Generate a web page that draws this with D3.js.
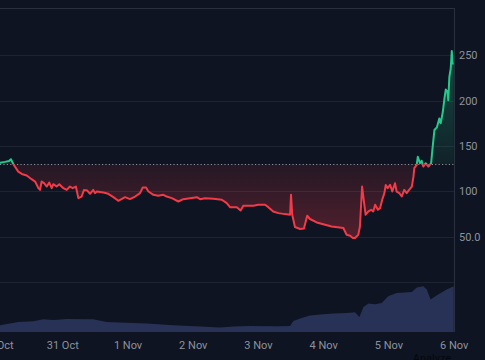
<!DOCTYPE html>
<html>
<head>
<meta charset="utf-8">
<script src="https://cdn.jsdelivr.net/npm/d3@7"></script>
<style>
  html, body { margin: 0; padding: 0; background: #0e1421; overflow: hidden; }
  svg { display: block; }
  text { font-family: Roboto, "Liberation Sans", sans-serif; }
</style>
</head>
<body>
<svg id="chart" width="485" height="360"></svg>
<script>
// ---- data (hours since 30 Oct 00:00 UTC) ----
const priceHours = [0,1.1,2.9,4.4,5.1,6.0,7.8,9.1,10.9,12.7,14.0,15.2,15.8,16.4,17.3,18.3,19.2,20.1,20.7,21.9,22.9,24.4,25.6,26.8,27.8,29.0,29.9,31.1,32.0,33.2,34.2,35.4,36.0,36.7,39.1,40.9,42.8,44.6,47.1,48.9,50.8,52.6,53.6,54.8,55.7,57.5,59.3,61.2,62.4,64.3,66.7,68.5,71.0,73.5,74.7,76.5,79.6,82.7,84.5,85.7,88.2,89.6,90.6,94.3,96.1,98.6,99.8,101.6,103.5,105.9,107.8,108.15,108.6,109.6,111.5,112.9,114.1,115.1,117.6,120.7,123.1,127.4,128.6,129.9,130.9,131.7,132.9,133.5,134.3,135.0,135.6,136.6,137.6,138.4,139.1,140.1,140.9,141.7,142.5,143.0,143.7,144.6,145.4,146.4,147.0,148.0,148.9,149.8,150.7,151.6,152.6,153.2,153.5,154.4,154.8,155.6,156.2,156.8,157.7,158.7,159.7,160.1,160.9,161.8,162.7,163.2,164.0,164.6,165.1,165.7,166.0,166.4,166.9,167.3,167.6,168.0];
const priceValues = [131.5,131.6,132.5,133.5,135.4,130,121.8,119.2,117.4,113.4,110.8,103.5,101.6,110.8,109,105.3,109.7,103.5,107.9,105.3,107.9,103.5,101.6,105.3,103.5,105.3,92.5,94.3,101.6,100.9,97.3,101.6,98,99.8,98.7,97.3,93.6,89.6,93.6,91.4,94.3,98,104.2,104.2,99.8,96.2,95.1,96.2,94.3,92.5,88.8,91.4,92.5,93.6,91.4,92.5,91.8,90.7,87,82.6,82.6,78.9,84.1,84.1,85.2,85.2,82.6,77.8,76,74.9,74.2,96.2,74.2,60.7,58.5,59.1,73.1,69.5,65.7,63.2,61.3,59.6,52.2,51.1,48.6,48.6,52.2,61.3,105.3,88,74.2,78,79.7,77.8,85.2,79.7,81.5,90.7,98,107.1,103.5,107.1,99.8,109,99.8,98,94.3,101.6,98,101.6,105.3,116.3,125.5,129.1,138.2,131,133.8,127.3,131,127.3,131,144,167.6,170.5,180.4,175,187.7,202.4,212.3,209.7,200.5,226.2,235.4,254.8,240.9,241];
const baselineValue = 130;

const volumeHours = [0,1.1,7.8,13.3,17.0,20.7,25.6,35.4,40.3,45.2,55.1,64.8,74.7,82.0,86.9,93.1,102.9,107.8,109.0,111.5,115.1,118.8,123.7,128.6,131.7,133.3,134.8,136.6,139.1,141.5,143.9,147.0,152.6,154.4,156.8,158.1,159.5,161.8,165.4,168.0];
const volumeValues = [12,13.4,20,21.4,25.4,24,26,25.4,20,18.8,16.8,13.4,10.8,8.8,10.8,12,11.4,12,22,26.8,32.8,34.8,36.8,38,39.4,30,50,56.8,55.4,58,71.4,78,80,88.8,91.4,84.8,64.8,73.4,84.8,91.4];

const dayTicks = ["2024-10-30","2024-10-31","2024-11-01","2024-11-02","2024-11-03","2024-11-04","2024-11-05","2024-11-06"];
const priceTickValues = [50,100,150,200,250];
const gridValues = [0,50,100,150,200,250];

// ---- layout ----
const W = 485, H = 360;
const plotRight = 454, plotTop = 8, volBottom = 332;
const t0 = Date.UTC(2024, 9, 30, 0, 0);
const toDate = h => new Date(t0 + h * 3600e3);

const svg = d3.select("#chart");
svg.append("rect").attr("width", W).attr("height", H).attr("fill", "#0e1421");

const x = d3.scaleUtc()
  .domain([new Date(t0), new Date(Date.UTC(2024, 10, 6, 0, 0))])
  .range([-2.94, 453.7]);
const y = d3.scaleLinear().domain([50, 150]).range([236.7, 146]);
const yVol = d3.scaleLinear().domain([0, 100]).range([volBottom, 282]);

const defs = svg.append("defs");
defs.append("clipPath").attr("id", "plotClip").append("rect")
  .attr("x", 0).attr("y", plotTop).attr("width", plotRight).attr("height", volBottom - plotTop);
const yb = y(baselineValue);
defs.append("clipPath").attr("id", "aboveClip").append("rect")
  .attr("x", 0).attr("y", 0).attr("width", plotRight).attr("height", yb);
defs.append("clipPath").attr("id", "belowClip").append("rect")
  .attr("x", 0).attr("y", yb).attr("width", plotRight).attr("height", H - yb);

const gUp = defs.append("linearGradient").attr("id", "gUp")
  .attr("gradientUnits", "userSpaceOnUse").attr("x1", 0).attr("x2", 0).attr("y1", y(255)).attr("y2", yb);
gUp.append("stop").attr("offset", 0).attr("stop-color", "#26c98b").attr("stop-opacity", 0.3);
gUp.append("stop").attr("offset", 1).attr("stop-color", "#26c98b").attr("stop-opacity", 0.08);
const gDn = defs.append("linearGradient").attr("id", "gDn")
  .attr("gradientUnits", "userSpaceOnUse").attr("x1", 0).attr("x2", 0).attr("y1", yb).attr("y2", y(48));
gDn.append("stop").attr("offset", 0).attr("stop-color", "#f23a48").attr("stop-opacity", 0.1);
gDn.append("stop").attr("offset", 1).attr("stop-color", "#f23a48").attr("stop-opacity", 0.3);

// grid
const grid = svg.append("g");
grid.selectAll("line.g").data(gridValues).join("line")
  .attr("x1", 0).attr("x2", plotRight)
  .attr("y1", d => Math.round(y(d)) + 0.5).attr("y2", d => Math.round(y(d)) + 0.5)
  .attr("stroke", "#1e2432").attr("stroke-width", 1);
grid.append("line").attr("x1", 0).attr("x2", plotRight + 0.5)
  .attr("y1", plotTop + 0.5).attr("y2", plotTop + 0.5).attr("stroke", "#2a303d");
grid.append("line").attr("x1", plotRight + 0.5).attr("x2", plotRight + 0.5)
  .attr("y1", plotTop).attr("y2", volBottom).attr("stroke", "#2a303d");

const priceData = priceHours.map((h, i) => ({ t: toDate(h), v: priceValues[i] }));
const volData = volumeHours.map((h, i) => ({ t: toDate(h), v: volumeValues[i] }));

const plot = svg.append("g").attr("clip-path", "url(#plotClip)");

// volume
plot.append("path").datum(volData)
  .attr("fill", "#283156")
  .attr("d", d3.area().x(d => x(d.t)).y0(volBottom).y1(d => yVol(d.v)));

// baseline fills
const area = d3.area().x(d => x(d.t)).y0(yb).y1(d => y(d.v));
const line = d3.line().x(d => x(d.t)).y(d => y(d.v));
plot.append("g").attr("clip-path", "url(#aboveClip)").append("path").datum(priceData)
  .attr("fill", "url(#gUp)").attr("d", area);
plot.append("g").attr("clip-path", "url(#belowClip)").append("path").datum(priceData)
  .attr("fill", "url(#gDn)").attr("d", area);

// baseline dotted
plot.append("line").attr("x1", 0).attr("x2", plotRight)
  .attr("y1", Math.round(yb) + 0.5).attr("y2", Math.round(yb) + 0.5)
  .attr("stroke", "#8b909c").attr("stroke-width", 1).attr("stroke-dasharray", "1.2,2.2");

// lines
plot.append("g").attr("clip-path", "url(#aboveClip)").append("path").datum(priceData)
  .attr("fill", "none").attr("stroke", "#26c98b").attr("stroke-width", 2)
  .attr("stroke-linejoin", "round").attr("d", line);
plot.append("g").attr("clip-path", "url(#belowClip)").append("path").datum(priceData)
  .attr("fill", "none").attr("stroke", "#f23a48").attr("stroke-width", 2)
  .attr("stroke-linejoin", "round").attr("d", line);

// right axis
const yAxis = d3.axisRight(y).tickValues(priceTickValues).tickSize(0).tickPadding(5)
  .tickFormat(d => d === 50 ? "50.0" : String(d));
const ya = svg.append("g").attr("transform", `translate(${plotRight},0)`).call(yAxis);
ya.select(".domain").remove();
ya.selectAll("text").attr("fill", "#8d929e").attr("font-size", 11);

// bottom axis
const parseDay = d3.utcParse("%Y-%m-%d");
const xAxis = d3.axisBottom(x).tickValues(dayTicks.map(parseDay)).tickSize(0).tickPadding(9)
  .tickFormat(d3.utcFormat("%-d %b"));
const xa = svg.append("g").attr("transform", `translate(0,${volBottom})`).call(xAxis);
xa.select(".domain").remove();
xa.selectAll("text").attr("fill", "#8d929e").attr("font-size", 11);

// attribution text (partly cut off)
svg.append("text").attr("x", 432).attr("y", 362).attr("text-anchor", "middle")
  .attr("font-size", 11).attr("fill", "#05070c").text("Analyze");
</script>
</body>
</html>
